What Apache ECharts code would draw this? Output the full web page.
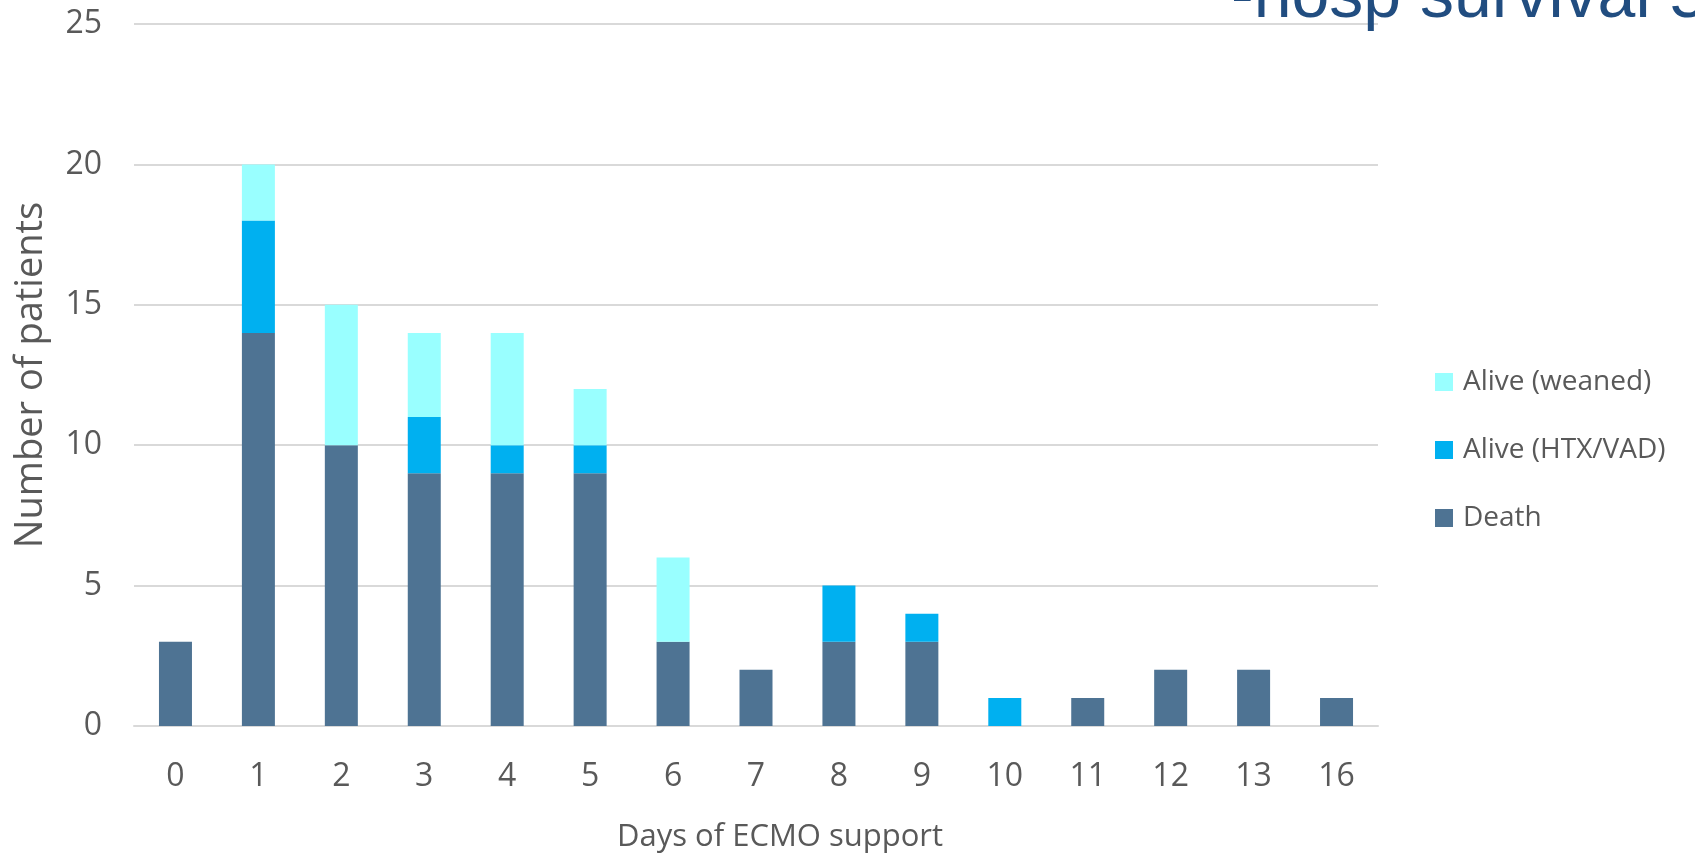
<!DOCTYPE html>
<html>
<head>
<meta charset="utf-8">
<script src="https://cdn.jsdelivr.net/npm/echarts@6/dist/echarts.min.js"></script>
<style>
  html, body { margin: 0; padding: 0; background: #ffffff; }
  #chart { width: 1695px; height: 863px; }
</style>
</head>
<body>
<div id="chart"></div>
<script>
// Days on ECMO support (category axis)
const days = ['0', '1', '2', '3', '4', '5', '6', '7', '8', '9', '10', '11', '12', '13', '16'];

// Patient counts per outcome, stacked bottom to top: death, HTX/VAD, weaned
const death   = [3, 14, 10, 9, 9, 9, 3, 2, 3, 3, 0, 1, 2, 2, 1];
const htxVad  = [0, 4, 0, 2, 1, 1, 0, 0, 2, 1, 1, 0, 0, 0, 0];
const weaned  = [0, 2, 5, 3, 4, 2, 3, 0, 0, 0, 0, 0, 0, 0, 0];

const yTicks = { min: 0, max: 25, interval: 5 };

const headline = '-hosp survival 5';

const labelFont = '"Open Sans", Lato, sans-serif';
const textGray = '#595959';

const chart = echarts.init(document.getElementById('chart'), null, { renderer: 'canvas' });

function barSeries(name, data, color) {
  return {
    name: name,
    type: 'bar',
    stack: 'patients',
    data: data,
    barWidth: 33,
    itemStyle: { color: color },
    emphasis: { disabled: true }
  };
}

chart.setOption({
  animation: false,
  backgroundColor: '#ffffff',
  grid: { left: 134, right: 317, top: 24, bottom: 137 },
  graphic: [{
    type: 'text',
    left: 1231,
    top: -36,
    style: {
      text: headline,
      font: '68px "Liberation Sans", Arial, sans-serif',
      fill: '#214d80'
    },
    z: 10
  }],
  legend: {
    orient: 'vertical',
    left: 1430,
    top: 363,
    itemWidth: 18,
    itemHeight: 18,
    itemGap: 40,
    icon: 'rect',
    data: ['Alive (weaned)', 'Alive (HTX/VAD)', 'Death'],
    textStyle: {
      fontFamily: labelFont,
      fontSize: 28,
      color: textGray,
      padding: [0, 0, 0, 5]
    },
    selectedMode: false
  },
  xAxis: {
    type: 'category',
    data: days,
    name: 'Days of ECMO support',
    nameLocation: 'middle',
    nameGap: 96,
    nameTextStyle: { fontFamily: labelFont, fontSize: 31, color: textGray, padding: [0, 0, 0, 48] },
    axisLine: { lineStyle: { color: '#d9d9d9', width: 2 } },
    axisTick: { show: false },
    axisLabel: { margin: 35, fontFamily: labelFont, fontSize: 32, color: textGray }
  },
  yAxis: {
    type: 'value',
    min: yTicks.min,
    max: yTicks.max,
    interval: yTicks.interval,
    name: 'Number of patients',
    nameLocation: 'middle',
    nameGap: 84,
    nameTextStyle: { fontFamily: labelFont, fontSize: 38, color: textGray },
    axisLine: { show: false },
    axisTick: { show: false },
    axisLabel: { margin: 32, fontFamily: labelFont, fontSize: 32, color: textGray },
    splitLine: { lineStyle: { color: '#d9d9d9', width: 2 } }
  },
  series: [
    barSeries('Death', death, '#4e7393'),
    barSeries('Alive (HTX/VAD)', htxVad, '#00b0f0'),
    barSeries('Alive (weaned)', weaned, '#99ffff')
  ]
});
</script>
</body>
</html>
